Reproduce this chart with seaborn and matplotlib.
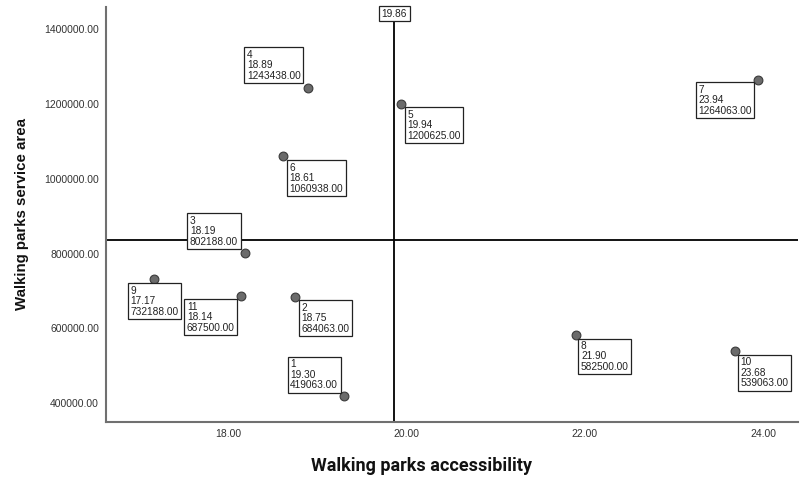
import numpy as np
import pandas as pd
import matplotlib
matplotlib.use("Agg")
import matplotlib.pyplot as plt
import seaborn as sns

# case numbers, accessibility (x) and service area (y)
case_ids = [1, 2, 3, 4, 5, 6, 7, 8, 9, 10, 11]
accessibility = [19.30, 18.75, 18.19, 18.89, 19.94, 18.61, 23.94, 21.90, 17.17, 23.68, 18.14]
service_area = [419063, 684063, 802188, 1243438, 1200625, 1060938, 1264063, 582500, 732188, 539063, 687500]

x_ticks = [18, 20, 22, 24]
y_ticks = [400000, 600000, 800000, 1000000, 1200000, 1400000]

df = pd.DataFrame({"case": case_ids, "x": accessibility, "y": service_area})

sns.set_style("white")
plt.rcParams["font.family"] = ["Liberation Sans", "DejaVu Sans"]

fig = plt.figure(figsize=(8, 4.87), dpi=100)
ax = fig.add_axes([0.1325, 0.134, 0.865, 0.852])

sns.scatterplot(data=df, x="x", y="y", ax=ax, s=40, color="#6b6b6b",
                edgecolor="#3a3a3a", linewidth=0.8, zorder=3)

# mean reference lines
mx = df["x"].mean()
my = df["y"].mean()
ax.axvline(mx, color="black", lw=1.3, zorder=2)
ax.axhline(my, color="black", lw=1.3, zorder=2)

ax.set_xlim(16.63, 24.39)
ax.set_ylim(350800, 1459600)
ax.set_xticks(x_ticks)
ax.set_yticks(y_ticks)
ax.set_xticklabels([f"{v:.2f}" for v in x_ticks])
ax.set_yticklabels([f"{v:.2f}" for v in y_ticks])
ax.tick_params(axis="both", length=0, labelsize=7.5, colors="#333333", pad=5)

for side in ["top", "right"]:
    ax.spines[side].set_visible(False)
for side in ["left", "bottom"]:
    ax.spines[side].set_color("#707070")
    ax.spines[side].set_linewidth(1.5)

ax.set_xlabel("Walking parks accessibility", fontsize=13, fontweight="bold",
              family="Roboto", color="#111111")
ax.xaxis.set_label_coords(0.4566, -0.086)
ax.set_ylabel("Walking parks service area", fontsize=10.8, fontweight="bold",
              color="#111111", labelpad=11)

# label box placement per case: (dx, dy, ha, va) in pixels from the point
place = {
    1: (-6, 6, "right", "bottom"),
    2: (6, -6, "left", "top"),
    3: (-7, 6, "right", "bottom"),
    4: (-7, 7, "right", "bottom"),
    5: (6, -6, "left", "top"),
    6: (7, -7, "left", "top"),
    7: (-6, -5, "right", "top"),
    8: (5, -6, "left", "top"),
    9: (0, -7, "center", "top"),
    10: (6, -6, "left", "top"),
    11: (-6, -6, "right", "top"),
}

box = dict(boxstyle="square,pad=0.25", fc="white", ec="#222222", lw=0.9)
for c, xv, yv in zip(df["case"], df["x"], df["y"]):
    dx, dy, ha, va = place[c]
    ax.annotate(f"{c}\n{xv:.2f}\n{yv:.2f}", (xv, yv), xytext=(dx, dy),
                textcoords="offset pixels", ha=ha, va=va, multialignment="left",
                fontsize=7.3, color="#222222", linespacing=1.05, bbox=box,
                zorder=4)

ax.annotate(f"{mx:.2f}", (mx, 1.0), xycoords=("data", "axes fraction"),
            xytext=(0, -2), textcoords="offset pixels", ha="center", va="top",
            fontsize=7.3, color="#222222", bbox=box, zorder=5)

fig.savefig("out.png", dpi=100)
